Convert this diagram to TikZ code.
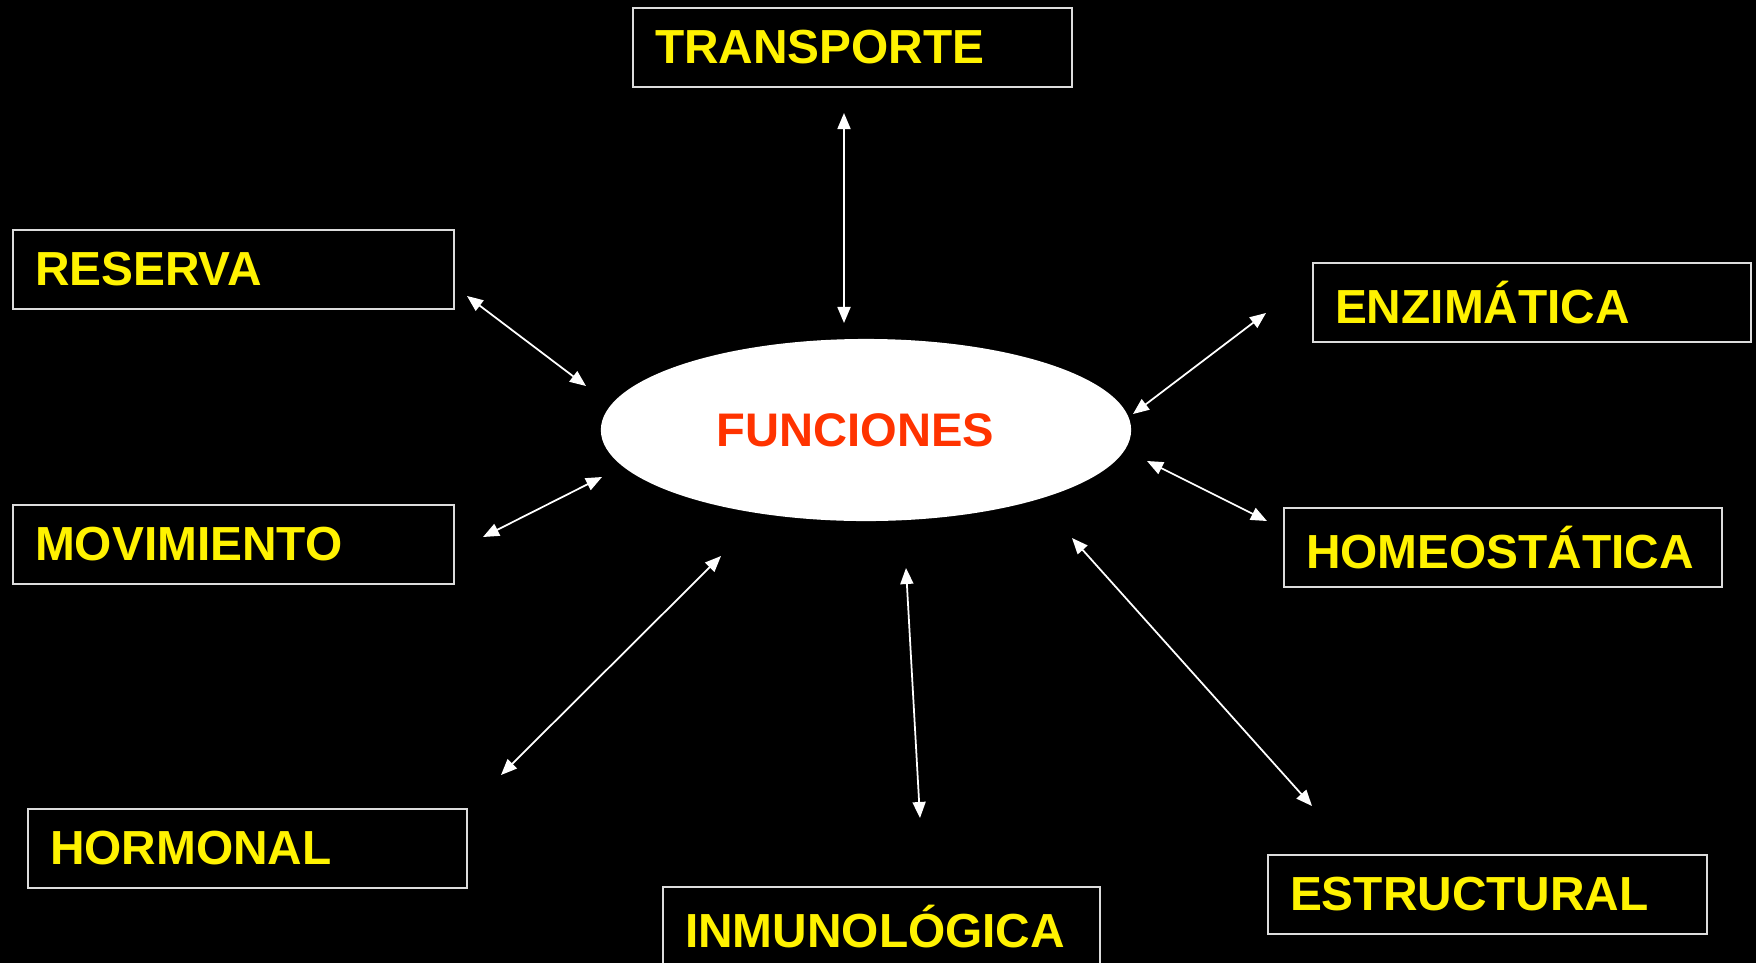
\documentclass[tikz,border=0pt]{standalone}
\usepackage{fontspec}
\setmainfont{Liberation Sans}
\usetikzlibrary{arrows.meta, shapes.geometric}
\definecolor{funcred}{HTML}{FF3300}
\definecolor{boxline}{HTML}{DCDCDC}
\begin{document}
\begin{tikzpicture}[x=0.01cm, y=-0.01cm]
	\tikzset{
		fbox/.style={draw=boxline, line width=0.6pt, fill=black, text=yellow,
			font=\fontsize{13.6}{16}\selectfont\bfseries, anchor=north west,
			inner xsep=0.22cm, inner ysep=0pt, align=left, text width=#1, minimum height=0.785cm},
		center/.style={ellipse, fill=white, minimum width=5.3cm, minimum height=1.82cm,
			text=funcred, font=\fontsize{13.4}{16}\selectfont\bfseries},
		link/.style={draw=white, line width=0.5pt,
			{Triangle[length=1.6mm, width=1.3mm]}-{Triangle[length=1.6mm, width=1.3mm]}}
	}
	\useasboundingbox[fill=black] (0,0) rectangle (1756,963);
	% central node
	\node[center] (func) at (866,430) {FUNCIONES\kern0.21cm};
	% function boxes
	\node[fbox=3.95cm] (transporte) at (632,7) {TRANSPORTE};
	\node[fbox=3.97cm] (reserva) at (12,229) {RESERVA};
	\node[fbox=3.97cm] (movimiento) at (12,504) {MOVIMIENTO};
	\node[fbox=3.94cm] (enzimatica) at (1312,262) {ENZIMÁTICA};
	\node[fbox=3.94cm] (homeostatica) at (1283,507) {HOMEOSTÁTICA};
	\node[fbox=3.95cm] (hormonal) at (27,808) {HORMONAL};
	\node[fbox=3.93cm] (inmunologica) at (662,886) {INMUNOLÓGICA};
	\node[fbox=3.95cm] (estructural) at (1267,854) {ESTRUCTURAL};
	% double arrows
	\foreach \n/\xa/\ya/\xb/\yb in {tra/844/113/844/323, res/467/296/586/386,
		mov/483/537/602/477, enz/1133/414/1266/313, hom/1147/461/1267/521,
		hor/501/775/721/556, inm/906/568/920/818, est/1072/538/1312/806} {
		\coordinate (\n A) at (\xa,\ya);
		\coordinate (\n B) at (\xb,\yb);
		\draw[link] (\n A) -- (\n B);
	}
\end{tikzpicture}
\end{document}
